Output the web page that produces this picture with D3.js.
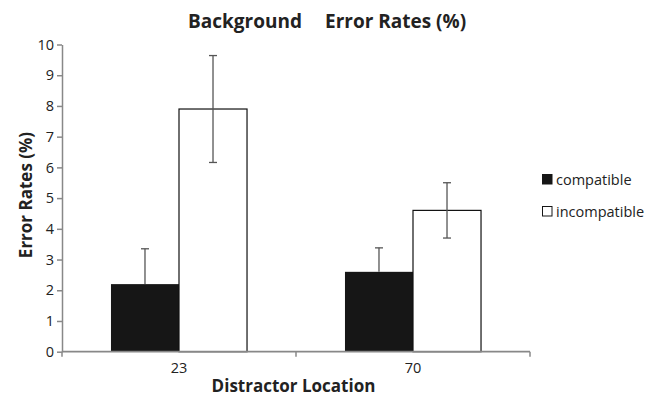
<!DOCTYPE html>
<html>
<head>
<meta charset="utf-8">
<script src="https://cdn.jsdelivr.net/npm/d3@7"></script>
<style>
  body { margin: 0; background: #fff; }
  text { font-family: "Open Sans", sans-serif; }
</style>
</head>
<body>
<div id="chart"></div>
<script>
(function () {
    // data
    var locations = ["23", "70"];
    var conditions = ["compatible", "incompatible"];
    var compatible = [2.2, 2.6];
    var incompatible = [7.9, 4.6];
    var compatibleErr = [1.15, 0.78];
    var incompatibleErr = [1.74, 0.9];
    var yTicks = [0, 1, 2, 3, 4, 5, 6, 7, 8, 9, 10];

    const width = 657, height = 397;
    const left = 62, right = 530, top = 44.5, bottom = 351.7;
    const colors = { compatible: "#161616", incompatible: "#ffffff" };
    const font = '"Open Sans", sans-serif';

    var rows = [];
    locations.forEach(function (loc, i) {
        rows.push({ loc: loc, cond: "compatible", value: compatible[i], err: compatibleErr[i], plusOnly: true });
        rows.push({ loc: loc, cond: "incompatible", value: incompatible[i], err: incompatibleErr[i], plusOnly: false });
    });

    var svg = d3.select('#chart').append('svg')
        .attr('width', width)
        .attr('height', height);

    var x = d3.scaleBand().domain(locations).range([left, right]);
    var xInner = d3.scaleBand().domain(conditions).range([0, x.bandwidth()]).paddingOuter(0.72);
    var y = d3.scaleLinear().domain([0, 10]).range([bottom, top]);

    // bars
    svg.append('g').selectAll('rect').data(rows)
        .enter().append('rect')
        .attr('x', d => x(d.loc) + xInner(d.cond))
        .attr('y', d => y(d.value))
        .attr('width', xInner.bandwidth())
        .attr('height', d => y(0) - y(d.value))
        .attr('fill', d => colors[d.cond])
        .attr('stroke', d => d.cond === "incompatible" ? "#111" : "none")
        .attr('stroke-width', 1.2);

    // error bars
    var eb = svg.append('g').attr('stroke', '#555').attr('stroke-width', 1.3);
    rows.forEach(function (d) {
        var cx = x(d.loc) + xInner(d.cond) + xInner.bandwidth() / 2;
        var hi = y(d.value + d.err);
        var lo = d.plusOnly ? y(d.value) : y(d.value - d.err);
        eb.append('line').attr('x1', cx).attr('x2', cx).attr('y1', hi).attr('y2', lo);
        eb.append('line').attr('x1', cx - 4).attr('x2', cx + 4).attr('y1', hi).attr('y2', hi);
        if (!d.plusOnly) {
            eb.append('line').attr('x1', cx - 4).attr('x2', cx + 4).attr('y1', lo).attr('y2', lo);
        }
    });

    // axes
    var yAxis = d3.axisLeft(y).tickValues(yTicks).tickSize(5).tickSizeOuter(0).tickPadding(3);
    var yg = svg.append('g')
        .attr('transform', `translate(${left},0)`)
        .call(yAxis);
    yg.selectAll('path, line').attr('stroke', '#888').attr('stroke-width', 1.5);
    yg.selectAll('text').attr('font-size', 14.5).attr('fill', '#222')
        .style('font-family', font);

    var xg = svg.append('g').attr('transform', `translate(0,${bottom})`);
    xg.append('line').attr('x1', left).attr('x2', right).attr('y1', 0).attr('y2', 0)
        .attr('stroke', '#888').attr('stroke-width', 1.8);
    xg.selectAll('.xtick').data([left, x("70"), right])
        .enter().append('line')
        .attr('x1', d => d).attr('x2', d => d)
        .attr('y1', 0).attr('y2', 5)
        .attr('stroke', '#888').attr('stroke-width', 1.5);
    xg.selectAll('.xlabel').data(locations)
        .enter().append('text')
        .attr('x', d => x(d) + x.bandwidth() / 2)
        .attr('y', 21)
        .attr('text-anchor', 'middle')
        .attr('font-size', 14.5)
        .attr('fill', '#222')
        .text(d => d);

    // titles
    var title = svg.append('text')
        .attr('y', 28)
        .attr('font-size', 19).attr('font-weight', 'bold').attr('fill', '#222');
    title.append('tspan').attr('x', 188).text('Background');
    title.append('tspan').attr('x', 325).text('Error Rates (%)');

    svg.append('text')
        .attr('x', 293.5).attr('y', 392)
        .attr('text-anchor', 'middle')
        .attr('font-size', 17).attr('font-weight', 'bold').attr('fill', '#222')
        .text('Distractor Location');

    svg.append('text')
        .attr('transform', 'translate(32,195) rotate(-90)')
        .attr('text-anchor', 'middle')
        .attr('font-size', 17).attr('font-weight', 'bold').attr('fill', '#222')
        .text('Error Rates (%)');

    // legend
    var legend = svg.append('g').attr('transform', 'translate(542,174)');
    legend.selectAll('rect').data(conditions)
        .enter().append('rect')
        .attr('x', 0.5)
        .attr('y', (d, i) => i * 32 + 0.5)
        .attr('width', 9.5).attr('height', 9.5)
        .attr('fill', d => colors[d])
        .attr('stroke', '#161616').attr('stroke-width', 1);
    legend.selectAll('text').data(conditions)
        .enter().append('text')
        .attr('x', 14)
        .attr('y', (d, i) => i * 32 + 10.5)
        .attr('font-size', 14.5).attr('fill', '#222')
        .text(d => d);
})();
</script>
</body>
</html>
